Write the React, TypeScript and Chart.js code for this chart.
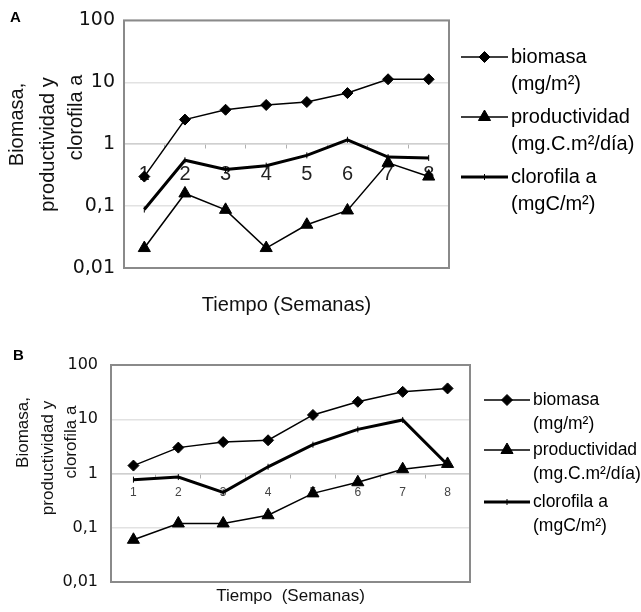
import React, { useEffect, useRef } from 'react';
import { Chart, registerables } from 'chart.js';

Chart.register(...registerables);

// ---------- data ----------
const weeks = ['1', '2', '3', '4', '5', '6', '7', '8'];
const yTickValues = [0.01, 0.1, 1, 10, 100];

const biomasaA = [0.3, 2.5, 3.6, 4.3, 4.8, 6.7, 11.2, 11.2];
const productividadA = [0.021, 0.16, 0.087, 0.021, 0.05, 0.085, 0.5, 0.3];
const clorofilaA = [0.088, 0.55, 0.39, 0.45, 0.66, 1.18, 0.62, 0.6];

const biomasaB = [1.4, 3.0, 3.8, 4.1, 12, 21, 32, 37];
const productividadB = [0.06, 0.12, 0.12, 0.17, 0.43, 0.69, 1.2, 1.5];
const clorofilaB = [0.77, 0.86, 0.45, 1.33, 3.4, 6.5, 9.7, 1.45];

const seriesNames = ['biomasa', 'productividad', 'clorofila a'];
const legendLines = [
  ['biomasa', '(mg/m²)'],
  ['productividad', '(mg.C.m²/día)'],
  ['clorofila a', '(mgC/m²)'],
];
const yTitle = ['Biomasa,', 'productividad y', 'clorofila a'];
const xTitleA = 'Tiempo (Semanas)';
const xTitleB = 'Tiempo  (Semanas)';

const FONT = '"Liberation Sans", Arial, Helvetica, sans-serif';
const TICK_FONT = '"DejaVu Sans", "Liberation Sans", Arial, sans-serif';

type PanelCfg = {
  letter: string;
  top: number;
  height: number;
  biomasa: number[];
  productividad: number[];
  clorofila: number[];
  xTitle: string;
  padTop: number;
  padRight: number;
  yWidth: number;
  x2Height: number;
  yTickSize: number;
  yPad: number;
  yTitleSize: number;
  yTitleX: number[];
  yTitleY: number[];
  xTickSize: number;
  xTickPad: number;
  xTickColor: string;
  xTitleSize: number;
  xTitlePadBottom: number;
  letterX: number;
  letterY: number;
  legLineX1: number;
  legLineX2: number;
  legTextX: number;
  legRowsY: number[];
  legLineGap: number;
  legSize: number;
};

const panelA: PanelCfg = {
  letter: 'A', top: 0, height: 330,
  biomasa: biomasaA, productividad: productividadA, clorofila: clorofilaA,
  xTitle: xTitleA,
  padTop: 17, padRight: 192, yWidth: 124, x2Height: 62,
  yTickSize: 19, yPad: 9, yTitleSize: 20,
  yTitleX: [17, 48, 76], yTitleY: [124.5, 144.5, 117.5],
  xTickSize: 20, xTickPad: 14, xTickColor: '#222',
  xTitleSize: 20, xTitlePadBottom: 13,
  letterX: 10, letterY: 17.5,
  legLineX1: 461, legLineX2: 508, legTextX: 511,
  legRowsY: [57, 117, 177], legLineGap: 27, legSize: 20,
};

const panelB: PanelCfg = {
  letter: 'B', top: 330, height: 282,
  biomasa: biomasaB, productividad: productividadB, clorofila: clorofilaB,
  xTitle: xTitleB,
  padTop: 35, padRight: 171, yWidth: 111, x2Height: 30,
  yTickSize: 16, yPad: 13, yTitleSize: 17,
  yTitleX: [23, 48, 71], yTitleY: [102.5, 128, 112],
  xTickSize: 12, xTickPad: 8, xTickColor: '#444',
  xTitleSize: 17, xTitlePadBottom: 5,
  letterX: 13, letterY: 26,
  legLineX1: 484, legLineX2: 530, legTextX: 533,
  legRowsY: [70, 120, 172], legLineGap: 24, legSize: 17.5,
};

function fmt(v: number): string {
  return String(v).replace('.', ',');
}

function drawMarker(ctx: CanvasRenderingContext2D, style: string, r: number, x: number, y: number) {
  ctx.beginPath();
  if (style === 'rectRot') {
    ctx.moveTo(x, y - r);
    ctx.lineTo(x + r, y);
    ctx.lineTo(x, y + r);
    ctx.lineTo(x - r, y);
    ctx.closePath();
    ctx.fill();
    ctx.stroke();
  } else if (style === 'triangle') {
    const h = Math.sqrt(3) / 2;
    ctx.moveTo(x, y - r);
    ctx.lineTo(x + r * h, y + r / 2);
    ctx.lineTo(x - r * h, y + r / 2);
    ctx.closePath();
    ctx.fill();
    ctx.stroke();
  } else {
    ctx.moveTo(x, y - r);
    ctx.lineTo(x, y + r);
    ctx.stroke();
  }
}

function makePlugin(cfg: PanelCfg) {
  return {
    id: 'panelDeco' + cfg.letter,
    beforeDatasetsDraw(chart: any) {
      const { ctx, chartArea } = chart;
      ctx.save();
      ctx.strokeStyle = '#8a8a8a';
      ctx.lineWidth = 2;
      ctx.strokeRect(chartArea.left, chartArea.top, chartArea.right - chartArea.left, chartArea.bottom - chartArea.top);
      ctx.restore();
    },
    afterDraw(chart: any) {
      const { ctx } = chart;
      ctx.save();
      // panel letter
      ctx.fillStyle = '#000';
      ctx.font = `bold 15px ${FONT}`;
      ctx.textAlign = 'left';
      ctx.textBaseline = 'middle';
      ctx.fillText(cfg.letter, cfg.letterX, cfg.letterY);
      // y-axis title (rotated, one line at a time)
      ctx.fillStyle = '#111';
      ctx.font = `${cfg.yTitleSize}px ${FONT}`;
      ctx.textAlign = 'center';
      ctx.textBaseline = 'middle';
      yTitle.forEach((t, k) => {
        ctx.save();
        ctx.translate(cfg.yTitleX[k], cfg.yTitleY[k]);
        ctx.rotate(-Math.PI / 2);
        ctx.fillText(t, 0, 0);
        ctx.restore();
      });
      // legend
      chart.data.datasets.forEach((ds: any, i: number) => {
        const y = cfg.legRowsY[i];
        ctx.strokeStyle = ds.borderColor;
        ctx.lineWidth = ds.borderWidth;
        ctx.beginPath();
        ctx.moveTo(cfg.legLineX1, y);
        ctx.lineTo(cfg.legLineX2, y);
        ctx.stroke();
        const mx = (cfg.legLineX1 + cfg.legLineX2) / 2;
        ctx.fillStyle = ds.backgroundColor;
        ctx.strokeStyle = ds.borderColor;
        ctx.lineWidth = ds.pointBorderWidth;
        drawMarker(ctx, ds.pointStyle, ds.pointRadius, mx, y);
        ctx.fillStyle = '#000';
        ctx.font = `${cfg.legSize}px ${FONT}`;
        ctx.textAlign = 'left';
        ctx.textBaseline = 'middle';
        legendLines[i].forEach((t, k) => ctx.fillText(t, cfg.legTextX, y + k * cfg.legLineGap));
      });
      ctx.restore();
    },
  };
}

function Panel({ cfg }: { cfg: PanelCfg }) {
  const ref = useRef<HTMLCanvasElement>(null);
  useEffect(() => {
    const canvas = ref.current;
    if (!canvas) return;
    const chart = new Chart(canvas, {
      type: 'line',
      data: {
        labels: weeks,
        datasets: [
          {
            label: seriesNames[0], data: cfg.biomasa,
            borderColor: '#000', backgroundColor: '#000', borderWidth: 1.5,
            pointStyle: 'rectRot', pointRadius: 5.5, pointBorderWidth: 1,
          },
          {
            label: seriesNames[1], data: cfg.productividad,
            borderColor: '#000', backgroundColor: '#000', borderWidth: 1.5,
            pointStyle: 'triangle', pointRadius: 7, pointBorderWidth: 1,
          },
          {
            label: seriesNames[2], data: cfg.clorofila,
            borderColor: '#000', backgroundColor: '#000', borderWidth: 3,
            pointStyle: 'line', pointRotation: 90, pointRadius: 3, pointBorderWidth: 1,
          },
        ] as any,
      },
      options: {
        responsive: false,
        animation: false,
        devicePixelRatio: 1,
        layout: { padding: { left: 0, top: cfg.padTop, right: cfg.padRight, bottom: 0 } },
        plugins: { legend: { display: false }, tooltip: { enabled: false } },
        elements: { line: { tension: 0 } },
        scales: {
          y: {
            type: 'logarithmic', position: 'left', min: 0.01, max: 100,
            afterBuildTicks: (s: any) => { s.ticks = yTickValues.map((v) => ({ value: v })); },
            afterFit: (s: any) => { s.width = cfg.yWidth; },
            ticks: {
              autoSkip: false, padding: cfg.yPad, color: '#111',
              font: { family: TICK_FONT, size: cfg.yTickSize },
              callback: (v: any) => fmt(Number(v)),
            },
            grid: { color: '#e2e2e2', lineWidth: 1.5, drawTicks: false },
            border: { display: false },
          },
          x: {
            type: 'category', position: { y: 1 } as any, offset: true,
            grid: { drawOnChartArea: false, drawTicks: true, tickLength: 4, color: '#b0b0b0', offset: true },
            border: { display: true, color: '#cfcfcf', width: 1.5 },
            ticks: {
              autoSkip: false, maxRotation: 0, padding: cfg.xTickPad, color: cfg.xTickColor,
              font: { family: FONT, size: cfg.xTickSize },
            },
          },
          x2: {
            type: 'category', position: 'bottom', labels: weeks, offset: true,
            grid: { display: false }, border: { display: false }, ticks: { display: false },
            afterFit: (s: any) => { s.height = cfg.x2Height; },
            title: {
              display: true, text: cfg.xTitle, color: '#111',
              font: { family: FONT, size: cfg.xTitleSize, lineHeight: 1.2 },
              padding: { top: 0, bottom: cfg.xTitlePadBottom },
            },
          },
        } as any,
      },
      plugins: [makePlugin(cfg)],
    });
    return () => chart.destroy();
  }, [cfg]);
  return (
    <div style={{ position: 'absolute', left: 0, top: cfg.top, width: 641, height: cfg.height }}>
      <canvas ref={ref} width={641} height={cfg.height} style={{ display: 'block', width: 641, height: cfg.height }} />
    </div>
  );
}

export default function App() {
  return (
    <div style={{ position: 'absolute', left: 0, top: 0, width: 641, height: 612, background: '#fff', overflow: 'hidden' }}>
      <Panel cfg={panelA} />
      <Panel cfg={panelB} />
    </div>
  );
}
